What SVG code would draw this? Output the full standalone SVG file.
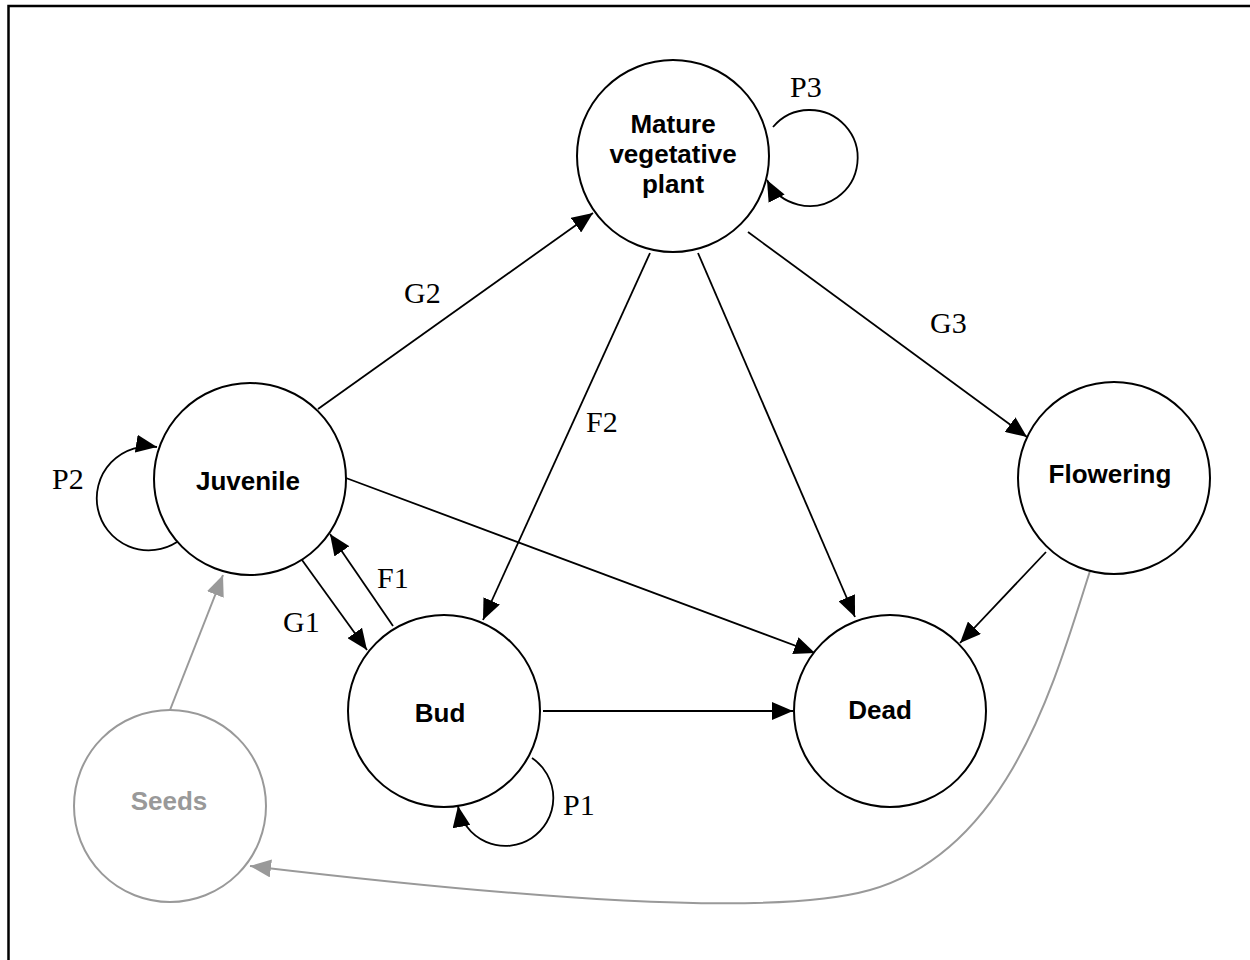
<svg xmlns="http://www.w3.org/2000/svg" width="1250" height="960" viewBox="0 0 1250 960">
<style>
.node{fill:#fff;stroke:#000;stroke-width:2}
.gnode{fill:#fff;stroke:#999;stroke-width:2}
.nt{font-family:"Liberation Sans",Arial,sans-serif;font-weight:bold;font-size:26px;fill:#000;text-anchor:middle}
.gt{font-family:"Liberation Sans",Arial,sans-serif;font-weight:bold;font-size:26px;fill:#999;text-anchor:middle}
.lbl{font-family:"Liberation Serif","Times New Roman",serif;font-size:30px;fill:#000}
.e{fill:none;stroke:#000;stroke-width:1.8}
.ge{fill:none;stroke:#999;stroke-width:2}
</style>
<defs>
<marker id="ah" markerUnits="userSpaceOnUse" markerWidth="22" markerHeight="18" refX="21" refY="9" orient="auto"><path d="M0,0 L21,9 L0,18 z" fill="#000"/></marker>
<marker id="gah" markerUnits="userSpaceOnUse" markerWidth="22" markerHeight="18" refX="21" refY="9" orient="auto"><path d="M0,0 L21,9 L0,18 z" fill="#999"/></marker>
</defs>
<rect x="0" y="0" width="1250" height="960" fill="#fff"/>
<path d="M8.5,960 L8.5,6 L1250,6" fill="none" stroke="#000" stroke-width="2.5"/>

<g id="connectors">
<line class="e" x1="318" y1="409" x2="593" y2="213" marker-end="url(#ah)"/>
<line class="e" x1="346" y1="478" x2="815" y2="653" marker-end="url(#ah)"/>
<line class="e" x1="302" y1="560" x2="367" y2="650" marker-end="url(#ah)"/>
<line class="e" x1="393" y1="626" x2="330" y2="534" marker-end="url(#ah)"/>
<line class="e" x1="650" y1="253" x2="483" y2="620" marker-end="url(#ah)"/>
<line class="e" x1="698" y1="253" x2="855" y2="617" marker-end="url(#ah)"/>
<line class="e" x1="748" y1="232" x2="1027" y2="437" marker-end="url(#ah)"/>
<line class="e" x1="1046" y1="552" x2="960" y2="643" marker-end="url(#ah)"/>
<line class="e" x1="543" y1="711" x2="793" y2="711" marker-end="url(#ah)"/>
<path class="e" d="M773,127 A48,48 0 1 1 767,180" marker-end="url(#ah)"/>
<path class="e" d="M177,542 A52,52 0 1 1 157,447" marker-end="url(#ah)"/>
<path class="e" d="M532,758 A48,48 0 1 1 458,806" marker-end="url(#ah)"/>
<line class="ge" x1="170" y1="710" x2="223" y2="575" marker-end="url(#gah)"/>
<path class="ge" d="M1090,571 C1055,680 1010,850 870,890 C770,918 520,898 250,866" marker-end="url(#gah)"/>
</g>

<g id="mature"><circle class="node" cx="673" cy="156" r="96"/><text class="nt" x="673" y="133">Mature</text><text class="nt" x="673" y="163">vegetative</text><text class="nt" x="673" y="193">plant</text></g>
<g id="juvenile"><circle class="node" cx="250" cy="479" r="96"/><text class="nt" x="248" y="490">Juvenile</text></g>
<g id="bud"><circle class="node" cx="444" cy="711" r="96"/><text class="nt" x="440" y="722">Bud</text></g>
<g id="dead"><circle class="node" cx="890" cy="711" r="96"/><text class="nt" x="880" y="719">Dead</text></g>
<g id="flowering"><circle class="node" cx="1114" cy="478" r="96"/><text class="nt" x="1110" y="483">Flowering</text></g>
<g id="seeds"><circle class="gnode" cx="170" cy="806" r="96"/><text class="gt" x="169" y="810">Seeds</text></g>

<g id="labels">
<text class="lbl" x="790" y="97">P3</text>
<text class="lbl" x="404" y="303">G2</text>
<text class="lbl" x="930" y="333">G3</text>
<text class="lbl" x="586" y="432">F2</text>
<text class="lbl" x="52" y="489">P2</text>
<text class="lbl" x="377" y="588">F1</text>
<text class="lbl" x="283" y="632">G1</text>
<text class="lbl" x="563" y="815">P1</text>
</g>
</svg>
